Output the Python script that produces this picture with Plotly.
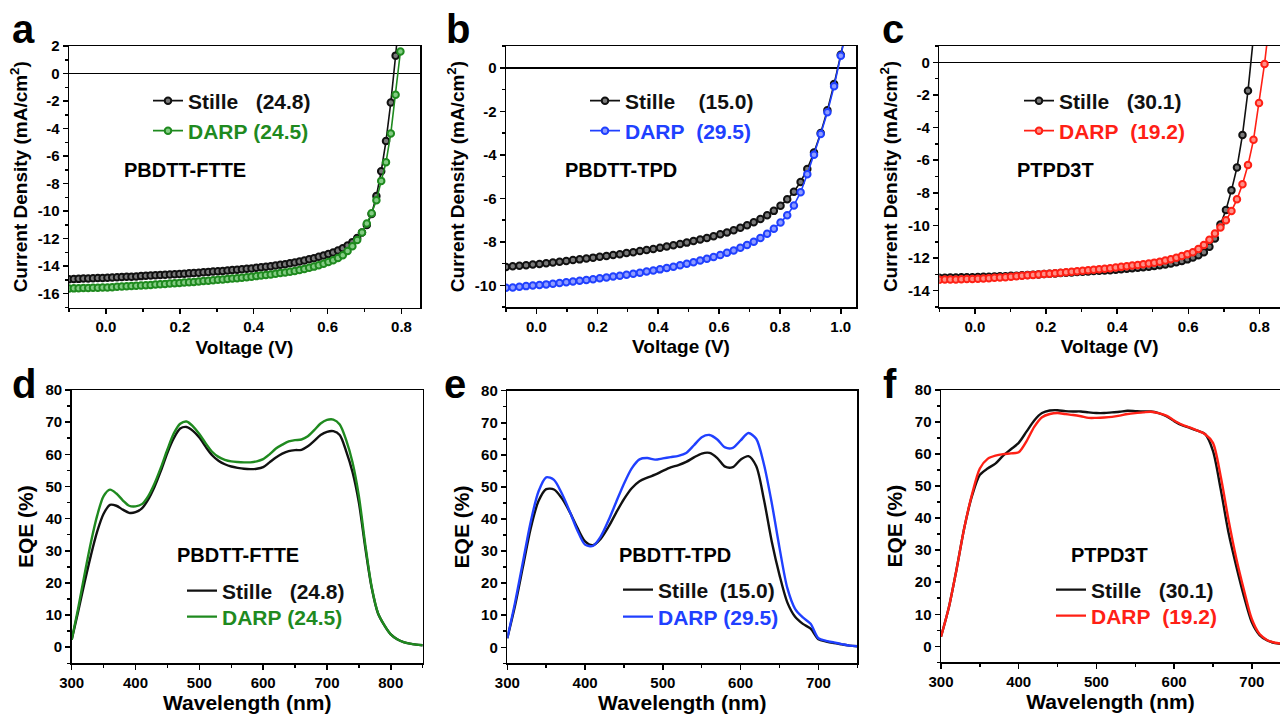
import plotly.graph_objects as go

W, H = 1280, 715
FONT = "Liberation Sans"

BLACK = "#111111"
GREEN = "#1f8a1f"
BLUE = "#2040ff"
RED = "#ff2015"

# ---------------- Panel a : PBDTT-FTTE J-V ----------------
V_A = [-0.1, -0.087, -0.074, -0.061, -0.048, -0.035, -0.022, -0.009, 0.004, 0.017,
       0.03, 0.043, 0.056, 0.069, 0.082, 0.095, 0.108, 0.121, 0.134, 0.147,
       0.16, 0.173, 0.186, 0.199, 0.212, 0.225, 0.238, 0.251, 0.264, 0.277,
       0.29, 0.303, 0.316, 0.329, 0.342, 0.355, 0.368, 0.381, 0.394, 0.407,
       0.42, 0.433, 0.446, 0.459, 0.472, 0.485, 0.498, 0.511, 0.524, 0.537,
       0.55, 0.563, 0.576, 0.589, 0.602, 0.615, 0.628, 0.641, 0.654, 0.667,
       0.68, 0.693, 0.706, 0.719, 0.732, 0.745, 0.758, 0.771, 0.784, 0.797]
J_A_STILLE = [-14.95, -14.93, -14.92, -14.90, -14.89, -14.88, -14.86, -14.85, -14.84, -14.82,
              -14.81, -14.79, -14.77, -14.76, -14.74, -14.72, -14.70, -14.68, -14.66, -14.64,
              -14.62, -14.60, -14.58, -14.56, -14.54, -14.52, -14.49, -14.47, -14.44, -14.42,
              -14.39, -14.37, -14.34, -14.31, -14.28, -14.25, -14.22, -14.19, -14.16, -14.12,
              -14.08, -14.04, -14.00, -13.95, -13.90, -13.85, -13.79, -13.73, -13.66, -13.58,
              -13.50, -13.42, -13.32, -13.22, -13.12, -13.00, -12.86, -12.70, -12.50, -12.25,
              -11.95, -11.55, -11.00, -10.20, -8.90, -7.10, -4.90, -2.10, 1.30, 5.00]
J_A_DARP = [-15.62, -15.61, -15.60, -15.59, -15.58, -15.57, -15.56, -15.55, -15.54, -15.52,
            -15.50, -15.48, -15.46, -15.44, -15.42, -15.40, -15.38, -15.36, -15.33, -15.31,
            -15.29, -15.26, -15.24, -15.22, -15.19, -15.17, -15.14, -15.11, -15.08, -15.05,
            -15.02, -14.99, -14.96, -14.93, -14.90, -14.87, -14.84, -14.80, -14.76, -14.72,
            -14.68, -14.64, -14.60, -14.55, -14.50, -14.45, -14.40, -14.34, -14.27, -14.20,
            -14.12, -14.03, -13.93, -13.82, -13.70, -13.56, -13.40, -13.21, -12.90, -12.55,
            -12.10, -11.55, -10.90, -10.15, -9.20, -7.80, -6.45, -4.35, -1.55, 1.60]

# ---------------- Panel b : PBDTT-TPD J-V ----------------
V_B = [-0.1, -0.078, -0.056, -0.034, -0.012, 0.01, 0.032, 0.054, 0.076, 0.098,
       0.12, 0.142, 0.164, 0.186, 0.208, 0.23, 0.252, 0.274, 0.296, 0.318,
       0.34, 0.362, 0.384, 0.406, 0.428, 0.45, 0.472, 0.494, 0.516, 0.538,
       0.56, 0.582, 0.604, 0.626, 0.648, 0.67, 0.692, 0.714, 0.736, 0.758,
       0.78, 0.802, 0.824, 0.846, 0.868, 0.89, 0.912, 0.934, 0.956, 0.978,
       1.0, 1.022]
J_B_STILLE = [-9.16, -9.13, -9.10, -9.08, -9.05, -9.02, -8.99, -8.95, -8.92, -8.88,
              -8.84, -8.81, -8.77, -8.73, -8.69, -8.65, -8.61, -8.57, -8.52, -8.48,
              -8.43, -8.38, -8.33, -8.28, -8.22, -8.16, -8.10, -8.04, -7.97, -7.90,
              -7.83, -7.75, -7.66, -7.57, -7.47, -7.36, -7.24, -7.10, -6.95, -6.78,
              -6.58, -6.34, -6.05, -5.70, -5.25, -4.65, -3.90, -3.00, -1.95, -0.75,
              0.60, 2.00]
J_B_DARP = [-10.12, -10.10, -10.07, -10.04, -10.01, -9.99, -9.96, -9.93, -9.90, -9.86,
            -9.83, -9.79, -9.76, -9.72, -9.68, -9.64, -9.60, -9.56, -9.52, -9.47,
            -9.42, -9.37, -9.32, -9.27, -9.21, -9.15, -9.08, -9.01, -8.94, -8.86,
            -8.78, -8.70, -8.61, -8.51, -8.40, -8.28, -8.15, -8.00, -7.83, -7.63,
            -7.40, -7.12, -6.78, -6.33, -5.72, -4.90, -4.00, -3.05, -2.05, -0.85,
            0.55, 1.95]

# ---------------- Panel c : PTPD3T J-V ----------------
V_C = [-0.1, -0.0845, -0.069, -0.0535, -0.038, -0.0225, -0.007, 0.0085, 0.024, 0.0395,
       0.055, 0.0705, 0.086, 0.1015, 0.117, 0.1325, 0.148, 0.1635, 0.179, 0.1945,
       0.21, 0.2255, 0.241, 0.2565, 0.272, 0.2875, 0.303, 0.3185, 0.334, 0.3495,
       0.365, 0.3805, 0.396, 0.4115, 0.427, 0.4425, 0.458, 0.4735, 0.489, 0.5045,
       0.52, 0.5355, 0.551, 0.5665, 0.582, 0.5975, 0.613, 0.6285, 0.644, 0.6595,
       0.675, 0.6905, 0.706, 0.7215, 0.737, 0.7525, 0.768, 0.7835, 0.799, 0.8145,
       0.83]
J_C_STILLE = [-13.20, -13.20, -13.19, -13.19, -13.18, -13.18, -13.17, -13.16, -13.15, -13.14,
              -13.13, -13.12, -13.11, -13.09, -13.08, -13.06, -13.04, -13.02, -13.00, -12.98,
              -12.96, -12.94, -12.92, -12.90, -12.88, -12.86, -12.84, -12.82, -12.80, -12.78,
              -12.76, -12.74, -12.72, -12.69, -12.66, -12.63, -12.60, -12.57, -12.53, -12.49,
              -12.44, -12.39, -12.33, -12.26, -12.18, -12.08, -11.96, -11.82, -11.64, -11.30,
              -10.80, -9.95, -9.05, -7.85, -6.45, -4.45, -1.75, 1.60]
J_C_DARP = [-13.33, -13.32, -13.31, -13.31, -13.30, -13.29, -13.28, -13.27, -13.25, -13.23,
            -13.21, -13.19, -13.17, -13.14, -13.12, -13.09, -13.06, -13.04, -13.01, -12.98,
            -12.96, -12.93, -12.90, -12.87, -12.84, -12.81, -12.78, -12.75, -12.72, -12.69,
            -12.65, -12.62, -12.58, -12.54, -12.50, -12.46, -12.42, -12.38, -12.33, -12.28,
            -12.22, -12.15, -12.07, -11.98, -11.88, -11.77, -11.64, -11.45, -11.20, -10.88,
            -10.50, -10.12, -9.68, -9.12, -8.40, -7.48, -6.30, -4.75, -2.50, -0.10,
            2.80]

# ---------------- Panel d : PBDTT-FTTE EQE ----------------
WL_D = [300, 310, 320, 330, 340, 350, 360, 370, 380, 390, 400, 410, 420, 430, 440,
        450, 460, 470, 480, 490, 500, 510, 520, 530, 540, 550, 560, 570, 580, 590,
        600, 610, 620, 630, 640, 650, 660, 670, 680, 690, 700, 710, 720, 730, 740,
        750, 760, 770, 780, 790, 800, 810, 820, 830, 840, 850]
EQE_D_STILLE = [2.3, 11.0, 20.0, 28.5, 36.0, 41.5, 44.3, 44.0, 42.8, 41.8, 42.0, 43.2, 46.0, 50.0, 55.0,
                60.5, 65.0, 68.0, 68.5, 67.3, 65.2, 62.3, 59.7, 58.0, 56.9, 56.2, 55.8, 55.5, 55.4, 55.5,
                56.0, 57.5, 59.0, 60.2, 61.0, 61.3, 61.4, 62.5, 64.2, 66.0, 67.0, 67.2, 66.0, 61.0, 54.5,
                45.0, 31.0, 18.5, 10.5, 6.8, 4.0, 2.5, 1.6, 1.1, 0.8, 0.6]
EQE_D_DARP = [2.3, 12.0, 22.5, 32.5, 41.0, 47.0, 49.0, 47.8, 45.7, 44.0, 43.8, 44.5, 47.0, 51.0, 56.0,
              61.5, 66.5, 69.5, 70.2, 68.7, 66.3, 63.4, 60.8, 59.2, 58.3, 57.8, 57.6, 57.5, 57.5, 57.8,
              58.5, 60.0, 61.8, 63.0, 64.0, 64.4, 64.6, 65.6, 67.5, 69.6, 70.7, 70.8, 69.3, 64.5, 57.5,
              47.0, 32.0, 18.8, 10.6, 6.8, 4.0, 2.5, 1.6, 1.1, 0.8, 0.6]

# ---------------- Panel e : PBDTT-TPD EQE ----------------
WL_E = [300, 310, 320, 330, 340, 350, 360, 370, 380, 390, 400, 410, 420, 430, 440,
        450, 460, 470, 480, 490, 500, 510, 520, 530, 540, 550, 560, 570, 580, 590,
        600, 610, 620, 630, 640, 650, 660, 670, 680, 690, 700, 710, 720, 730, 740, 750]
EQE_E_STILLE = [2.8, 13.0, 25.0, 37.0, 45.5, 49.3, 49.2, 46.5, 42.3, 37.3, 33.0, 31.8, 33.8, 37.5, 42.0,
                46.2, 49.6, 51.8, 52.9, 53.8, 55.0, 56.1, 56.8, 57.8, 59.2, 60.4, 60.6, 59.0, 56.3, 56.2,
                58.5, 59.6, 56.5, 46.0, 33.0, 22.5, 14.0, 9.5, 7.3, 5.8, 2.5, 1.8, 1.3, 0.9, 0.5, 0.3]
EQE_E_DARP = [2.8, 14.0, 26.5, 39.0, 48.5, 53.0, 52.2, 48.0, 42.5, 36.5, 32.0, 31.6, 34.5, 39.5, 45.3,
              51.0, 55.8, 58.6, 59.0, 58.5, 58.9, 59.3, 59.7, 60.6, 63.0, 65.5, 66.2, 64.8, 62.3, 62.2,
              64.5, 66.8, 65.0, 57.0, 45.0, 31.0, 18.5, 12.0, 9.3, 7.3, 2.8, 2.0, 1.5, 1.0, 0.5, 0.3]

# ---------------- Panel f : PTPD3T EQE ----------------
WL_F = [300, 310, 320, 330, 340, 350, 360, 370, 380, 390, 400, 410, 420, 430, 440,
        450, 460, 470, 480, 490, 500, 510, 520, 530, 540, 550, 560, 570, 580, 590,
        600, 610, 620, 630, 640, 650, 660, 670, 680, 690, 700, 710, 720, 730, 740, 750]
EQE_F_STILLE = [3.0, 12.0, 24.0, 37.0, 47.0, 53.5, 55.5, 57.0, 59.5, 61.5, 63.5, 67.0, 70.5, 72.8, 73.6,
                73.7, 73.4, 73.3, 73.3, 73.0, 72.8, 72.8, 73.0, 73.2, 73.5, 73.4, 73.3, 73.3, 72.8, 71.8,
                70.3, 69.0, 68.2, 67.3, 66.2, 61.0, 49.0, 35.5, 25.0, 15.5, 7.5, 3.5, 1.8, 1.0, 0.7, 0.5]
EQE_F_DARP = [3.0, 12.0, 24.0, 37.0, 47.5, 55.5, 58.5, 59.5, 60.0, 60.2, 60.6, 64.0, 68.5, 71.5, 72.5,
              72.8, 72.5, 72.2, 71.8, 71.3, 71.3, 71.4, 71.6, 72.0, 72.5, 72.8, 73.0, 73.2, 72.8, 72.0,
              70.5, 69.2, 68.3, 67.3, 66.2, 63.5, 53.0, 39.5, 27.5, 17.5, 8.5, 3.8, 1.9, 1.1, 0.8, 0.6]

# ---------------- tick labels ----------------
TICKS_A_Y = [2, 0, -2, -4, -6, -8, -10, -12, -14, -16]
TICKS_B_Y = [0, -2, -4, -6, -8, -10]
TICKS_C_Y = [0, -2, -4, -6, -8, -10, -12, -14]
TICKS_A_X = [0.0, 0.2, 0.4, 0.6, 0.8]
TICKS_B_X = [0.0, 0.2, 0.4, 0.6, 0.8, 1.0]
TICKS_EQE_Y = [0, 10, 20, 30, 40, 50, 60, 70, 80]
TICKS_D_X = [300, 400, 500, 600, 700, 800]
TICKS_EF_X = [300, 400, 500, 600, 700]

NB = "\u00a0"


def px_x(p):
    return p / W


def px_y(p):
    return 1 - p / H


fig = go.Figure()

jv_series = [
    ("x", "y", V_A, J_A_STILLE, BLACK, "Stille" + NB * 3 + "(24.8)", "legend"),
    ("x", "y", V_A, J_A_DARP, GREEN, "DARP" + NB + "(24.5)", "legend2"),
    ("x2", "y2", V_B, J_B_STILLE, BLACK, "Stille" + NB * 4 + "(15.0)", "legend3"),
    ("x2", "y2", V_B, J_B_DARP, BLUE, "DARP" + NB * 2 + "(29.5)", "legend4"),
    ("x3", "y3", V_C, J_C_STILLE, BLACK, "Stille" + NB * 3 + "(30.1)", "legend5"),
    ("x3", "y3", V_C, J_C_DARP, RED, "DARP" + NB * 2 + "(19.2)", "legend6"),
]
LIGHT = {BLACK: "#7a7a7a", GREEN: "#84cc84", BLUE: "#8e9cff", RED: "#ff8f86"}
for xa, ya, vx, jy, col, name, leg in jv_series:
    fig.add_trace(go.Scatter(
        x=vx[:len(jy)], y=jy, xaxis=xa, yaxis=ya, mode="lines+markers",
        line=dict(color=col, width=1.6),
        marker=dict(symbol="circle", size=6.5, color=LIGHT[col], line=dict(color=col, width=2)),
        name=f'<span style="color:{col}">{name}</span>', legend=leg, showlegend=True))

eqe_series = [
    ("x4", "y4", WL_D, EQE_D_STILLE, BLACK, "Stille" + NB * 3 + "(24.8)", "legend7"),
    ("x4", "y4", WL_D, EQE_D_DARP, GREEN, "DARP" + NB + "(24.5)", "legend8"),
    ("x5", "y5", WL_E, EQE_E_STILLE, BLACK, "Stille" + NB * 2 + "(15.0)", "legend9"),
    ("x5", "y5", WL_E, EQE_E_DARP, BLUE, "DARP" + NB + "(29.5)", "legend10"),
    ("x6", "y6", WL_F, EQE_F_STILLE, BLACK, "Stille" + NB * 3 + "(30.1)", "legend11"),
    ("x6", "y6", WL_F, EQE_F_DARP, RED, "DARP" + NB * 2 + "(19.2)", "legend12"),
]
for xa, ya, wx, ey, col, name, leg in eqe_series:
    fig.add_trace(go.Scatter(
        x=wx, y=ey, xaxis=xa, yaxis=ya, mode="lines",
        line=dict(color=col, width=2.4, shape="spline", smoothing=0.8),
        name=f'<span style="color:{col}">{name}</span>', legend=leg, showlegend=True))

TICKFONT = dict(family=FONT, size=15, color="black", weight="bold")


def minor_cfg(dt):
    return dict(ticks="outside", ticklen=3, tickwidth=1.5, tickcolor="black",
                tickmode="linear", tick0=0, dtick=dt, showgrid=False)


def xaxis_cfg(dom, rng, tv, tt, minor_dt, title, tsize, anchor, standoff):
    return dict(domain=dom, range=rng, anchor=anchor, tickmode="array", tickvals=tv, ticktext=tt,
                ticks="outside", ticklen=5, tickwidth=1.5, tickcolor="black",
                minor=minor_cfg(minor_dt), automargin=False,
                showline=True, linewidth=1.5, linecolor="black", mirror=True,
                showgrid=False, zeroline=False, tickfont=TICKFONT,
                title=dict(text=title, font=dict(family=FONT, size=tsize, color="black", weight="bold"),
                           standoff=standoff))


def yaxis_cfg(dom, rng, tv, tt, minor_dt, title, tsize, anchor, standoff, mirror=True, zero=False):
    return dict(domain=dom, range=rng, anchor=anchor, tickmode="array", tickvals=tv, ticktext=tt,
                ticks="outside", ticklen=5, tickwidth=1.5, tickcolor="black",
                minor=minor_cfg(minor_dt), automargin=False,
                showline=True, linewidth=1.5, linecolor="black", mirror=mirror,
                showgrid=False, tickfont=TICKFONT,
                zeroline=zero, zerolinecolor="black", zerolinewidth=1.5,
                title=dict(text=title, font=dict(family=FONT, size=tsize, color="black", weight="bold"),
                           standoff=standoff))


def fmt1(v):
    return f"{v:.1f}"


JV_TITLE = "Current Density (mA/cm<sup>2</sup>)"

layout = dict(
    width=W, height=H, margin=dict(l=0, r=0, t=0, b=0, autoexpand=False),
    paper_bgcolor="white", plot_bgcolor="white", hovermode=False,
    font=dict(family=FONT, color="black"),
    xaxis=xaxis_cfg([px_x(69), px_x(420)], [-0.1, 0.85], TICKS_A_X, [fmt1(v) for v in TICKS_A_X], 0.1,
                    "Voltage (V)", 19, "y", 6),
    yaxis=yaxis_cfg([px_y(307.5), px_y(46)], [-17, 2], TICKS_A_Y, [str(v) for v in TICKS_A_Y], 1,
                    JV_TITLE, 19, "x", 5, zero=True),
    xaxis2=xaxis_cfg([px_x(506), px_x(856)], [-0.1, 1.05], TICKS_B_X, [fmt1(v) for v in TICKS_B_X], 0.1,
                     "Voltage (V)", 19, "y2", 6),
    yaxis2=yaxis_cfg([px_y(307), px_y(46)], [-11, 1], TICKS_B_Y, [str(v) for v in TICKS_B_Y], 1,
                     JV_TITLE, 19, "x2", 5, zero=True),
    xaxis3=xaxis_cfg([px_x(939.3), 1.0], [-0.1, 0.858], TICKS_A_X, [fmt1(v) for v in TICKS_A_X], 0.1,
                     "Voltage (V)", 19, "y3", 6),
    yaxis3=yaxis_cfg([px_y(307), px_y(46)], [-15, 1], TICKS_C_Y, [str(v) for v in TICKS_C_Y], 1,
                     JV_TITLE, 19, "x3", 5, mirror=False, zero=True),
    xaxis4=xaxis_cfg([px_x(71.7), px_x(422.7)], [300, 850], TICKS_D_X, [str(v) for v in TICKS_D_X], 50,
                     "Wavelength (nm)", 21, "y4", 4),
    yaxis4=yaxis_cfg([px_y(663.3), px_y(390)], [-5, 80], TICKS_EQE_Y, [str(v) for v in TICKS_EQE_Y], 5,
                     "EQE (%)", 21, "x4", 6),
    xaxis5=xaxis_cfg([px_x(507.3), px_x(857.3)], [300, 750], TICKS_EF_X, [str(v) for v in TICKS_EF_X], 50,
                     "Wavelength (nm)", 21, "y5", 4),
    yaxis5=yaxis_cfg([px_y(663.3), px_y(390.7)], [-5, 80], TICKS_EQE_Y, [str(v) for v in TICKS_EQE_Y], 5,
                     "EQE (%)", 21, "x5", 6),
    xaxis6=xaxis_cfg([px_x(941), 1.0], [300, 736.3], TICKS_EF_X, [str(v) for v in TICKS_EF_X], 50,
                     "Wavelength (nm)", 21, "y6", 4),
    yaxis6=yaxis_cfg([px_y(662.3), px_y(390)], [-5, 80], TICKS_EQE_Y, [str(v) for v in TICKS_EQE_Y], 5,
                     "EQE (%)", 21, "x6", 6, mirror=False),
)

LEGFONT = dict(family=FONT, size=21, color="black", weight="bold")
# legend rows: (text start px, row centre px)
legend_rows = {
    "legend": (188, 101), "legend2": (188, 131),
    "legend3": (625, 101), "legend4": (625, 131),
    "legend5": (1059, 101), "legend6": (1059, 131),
    "legend7": (222, 591), "legend8": (222, 617),
    "legend9": (658, 590), "legend10": (658, 617),
    "legend11": (1091, 590), "legend12": (1091, 616),
}
for key, (tx, ty) in legend_rows.items():
    layout[key] = dict(x=px_x(tx - 40), y=px_y(ty), xanchor="left", yanchor="middle",
                       bgcolor="rgba(0,0,0,0)", borderwidth=0, font=LEGFONT,
                       itemclick=False, itemdoubleclick=False)

fig.update_layout(**layout)

letters = [("a", 10, 29), ("b", 444, 29), ("c", 880, 29), ("d", 10, 384), ("e", 442, 384), ("f", 881, 384)]
for t, lx, ly in letters:
    fig.add_annotation(text=t, x=px_x(lx), y=px_y(ly), xref="paper", yref="paper",
                       xanchor="left", yanchor="middle", showarrow=False,
                       font=dict(family=FONT, size=40, color="black", weight="bold"))

names = [("PBDTT-FTTE", 122, 170), ("PBDTT-TPD", 563, 170), ("PTPD3T", 1015, 170),
         ("PBDTT-FTTE", 175, 555), ("PBDTT-TPD", 617, 555), ("PTPD3T", 1069, 555)]
for t, lx, ly in names:
    fig.add_annotation(text=t, x=px_x(lx), y=px_y(ly), xref="paper", yref="paper",
                       xanchor="left", yanchor="middle", showarrow=False,
                       font=dict(family=FONT, size=20, color="black", weight="bold"))

fig.write_html("out.html", config={"displayModeBar": False, "staticPlot": True},
               post_script="document.body.style.margin='0px';document.body.style.overflow='hidden';")
